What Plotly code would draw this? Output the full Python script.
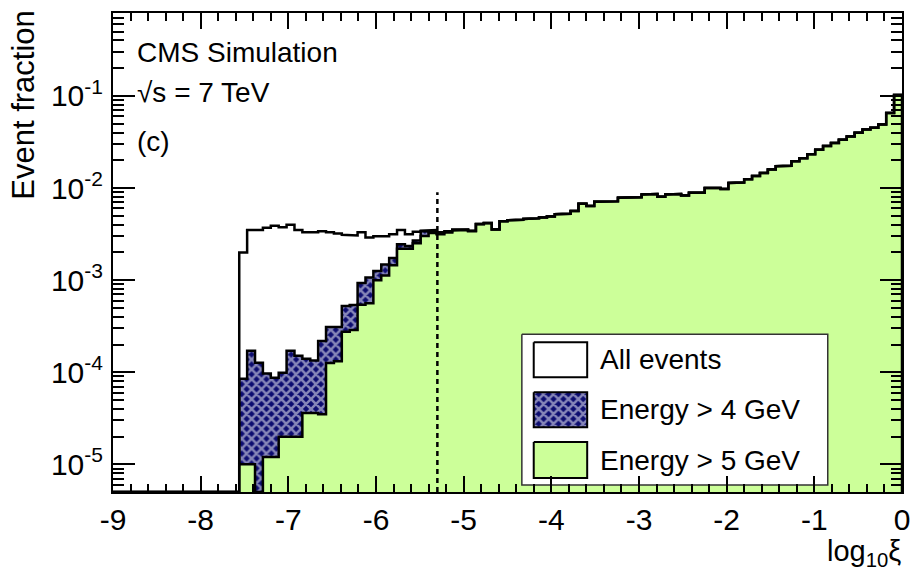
import numpy as np
import plotly.graph_objects as go

# Histogram binning in log10(xi)
XI_MIN, XI_MAX, N_BINS = -9.0, 0.0, 100
XI_CUT = -5.3          # position of the dashed reference line
CUT_TOP = 9e-3         # height the dashed line reaches

# Event fraction per bin (bins 0-15 are empty)
frac_all = [
    0, 0, 0, 0, 0, 0, 0, 0, 0, 0,
    0, 0, 0, 0, 0, 0, 2.0e-3, 3.5e-3, 3.5e-3, 3.7e-3,
    3.9e-3, 3.75e-3, 4.0e-3, 3.5e-3, 3.3e-3, 3.3e-3, 3.4e-3, 3.3e-3, 3.2e-3, 3.1e-3,
    3.05e-3, 3.3e-3, 2.9e-3, 3.0e-3, 3.0e-3, 3.15e-3, 3.5e-3, 3.15e-3, 3.35e-3, 3.45e-3,
    3.5e-3, 3.31e-3, 3.39e-3, 3.55e-3, 3.55e-3, 3.43e-3, 4.07e-3, 4.17e-3, 3.55e-3, 4.37e-3,
    4.47e-3, 4.52e-3, 4.62e-3, 4.68e-3, 4.79e-3, 4.90e-3, 5.19e-3, 5.25e-3, 5.62e-3, 6.76e-3,
    6.38e-3, 7.08e-3, 7.08e-3, 7.16e-3, 7.85e-3, 7.85e-3, 7.94e-3, 8.51e-3, 8.61e-3, 8.04e-3,
    8.51e-3, 8.61e-3, 8.32e-3, 8.91e-3, 8.91e-3, 1.00e-2, 1.00e-2, 9.77e-3, 1.135e-2, 1.15e-2,
    1.245e-2, 1.35e-2, 1.46e-2, 1.585e-2, 1.72e-2, 1.74e-2, 1.95e-2, 2.11e-2, 2.32e-2, 2.60e-2,
    2.85e-2, 3.09e-2, 3.35e-2, 3.63e-2, 3.98e-2, 4.32e-2, 4.52e-2, 4.90e-2, 6.53e-2, 0.102,
]

frac_e4 = [
    0, 0, 0, 0, 0, 0, 0, 0, 0, 0,
    0, 0, 0, 0, 0, 0, 8.5e-5, 1.71e-4, 1.27e-4, 9.7e-5,
    8.7e-5, 9.9e-5, 1.71e-4, 1.51e-4, 1.40e-4, 1.34e-4, 2.19e-4, 3.09e-4, 3.09e-4, 5.25e-4,
    5.37e-4, 9.3e-4, 1.07e-3, 1.26e-3, 1.48e-3, 1.74e-3, 2.45e-3, 2.34e-3, 2.69e-3, 3.39e-3,
    3.31e-3, 3.22e-3, 3.33e-3, 3.50e-3, 3.52e-3, 3.41e-3, 4.07e-3, 4.17e-3, 3.55e-3, 4.37e-3,
    4.47e-3, 4.52e-3, 4.62e-3, 4.68e-3, 4.79e-3, 4.90e-3, 5.19e-3, 5.25e-3, 5.62e-3, 6.76e-3,
    6.38e-3, 7.08e-3, 7.08e-3, 7.16e-3, 7.85e-3, 7.85e-3, 7.94e-3, 8.51e-3, 8.61e-3, 8.04e-3,
    8.51e-3, 8.61e-3, 8.32e-3, 8.91e-3, 8.91e-3, 1.00e-2, 1.00e-2, 9.77e-3, 1.135e-2, 1.15e-2,
    1.245e-2, 1.35e-2, 1.46e-2, 1.585e-2, 1.72e-2, 1.74e-2, 1.95e-2, 2.11e-2, 2.32e-2, 2.60e-2,
    2.85e-2, 3.09e-2, 3.35e-2, 3.63e-2, 3.98e-2, 4.32e-2, 4.52e-2, 4.90e-2, 6.53e-2, 0.102,
]

frac_e5 = [
    0, 0, 0, 0, 0, 0, 0, 0, 0, 0,
    0, 0, 0, 0, 0, 0, 1.0e-5, 1.0e-5, 0, 1.2e-5,
    1.2e-5, 2.0e-5, 2.0e-5, 2.0e-5, 3.6e-5, 3.6e-5, 3.5e-5, 1.26e-4, 1.32e-4, 2.75e-4,
    2.88e-4, 5.4e-4, 5.6e-4, 1.0e-3, 1.12e-3, 1.45e-3, 2.19e-3, 2.19e-3, 2.51e-3, 3.02e-3,
    3.24e-3, 3.15e-3, 3.28e-3, 3.46e-3, 3.50e-3, 3.40e-3, 4.05e-3, 4.15e-3, 3.55e-3, 4.37e-3,
    4.47e-3, 4.52e-3, 4.62e-3, 4.68e-3, 4.79e-3, 4.90e-3, 5.19e-3, 5.25e-3, 5.62e-3, 6.76e-3,
    6.38e-3, 7.08e-3, 7.08e-3, 7.16e-3, 7.85e-3, 7.85e-3, 7.94e-3, 8.51e-3, 8.61e-3, 8.04e-3,
    8.51e-3, 8.61e-3, 8.32e-3, 8.91e-3, 8.91e-3, 1.00e-2, 1.00e-2, 9.77e-3, 1.135e-2, 1.15e-2,
    1.245e-2, 1.35e-2, 1.46e-2, 1.585e-2, 1.72e-2, 1.74e-2, 1.95e-2, 2.11e-2, 2.32e-2, 2.60e-2,
    2.85e-2, 3.09e-2, 3.35e-2, 3.63e-2, 3.98e-2, 4.32e-2, 4.52e-2, 4.90e-2, 6.53e-2, 0.102,
]

series_names = ["All events", "Energy > 4 GeV", "Energy > 5 GeV"]
x_tick_vals = list(range(-9, 1))
y_exponents = [-5, -4, -3, -2, -1]

# Axis limits (log10 of event fraction)
LOGY_LO, LOGY_HI = -5.3, -0.1
Y_LO = 10 ** LOGY_LO

FONT = "Liberation Sans, Arial, Helvetica, sans-serif"
GREEN = "#ccff99"
NAVY = "#0c0c70"
LW = 2.5

# Plot frame in pixels (figure is 921 x 575)
W, H = 921, 575
PL, PR, PT, PB = 113, 910, 12, 492


def px(x):
    """Horizontal pixel -> paper coordinate."""
    return (x - PL) / (PR - PL)


def py(y):
    """Vertical pixel (from top) -> paper coordinate."""
    return (PB - y) / (PB - PT)


edges = np.linspace(XI_MIN, XI_MAX, N_BINS + 1)


def step_path(values, closed):
    """Outline of a histogram as an hv step path; empty bins sit on the axis floor."""
    v = np.maximum(np.asarray(values, float), Y_LO)
    xs = np.repeat(edges, 2)[1:-1]
    ys = np.repeat(v, 2)
    if closed:
        xs = np.concatenate([[edges[0]], xs, [edges[-1]]])
        ys = np.concatenate([[Y_LO], ys, [Y_LO]])
    return xs, ys


pattern = dict(shape="x", bgcolor=NAVY, fgcolor="white", size=7, solidity=0.6)

fig = go.Figure()

x4, y4 = step_path(frac_e4, True)
fig.add_trace(go.Scatter(x=x4, y=y4, mode="lines", fill="toself", fillpattern=pattern,
                         line=dict(color="black", width=LW), name=series_names[1],
                         showlegend=False, hoverinfo="skip"))
x5, y5 = step_path(frac_e5, True)
fig.add_trace(go.Scatter(x=x5, y=y5, mode="lines", fill="toself", fillcolor=GREEN,
                         line=dict(color="black", width=LW), name=series_names[2],
                         showlegend=False, hoverinfo="skip"))
xa, ya = step_path(frac_all, False)
fig.add_trace(go.Scatter(x=xa, y=ya, mode="lines", line=dict(color="black", width=LW),
                         name=series_names[0], showlegend=False, hoverinfo="skip"))
fig.add_trace(go.Scatter(x=[XI_CUT, XI_CUT], y=[Y_LO, CUT_TOP], mode="lines",
                         line=dict(color="black", width=2.5, dash="5px,4px"),
                         showlegend=False, hoverinfo="skip"))

# Legend drawn on a pixel-unit overlay axis
BOX = (526, 835, 334, 485)
SW_X = (538, 592)
rows = [(342, 377), (392, 427), (442, 478)]


def rect(x0, x1, y0, y1):
    return [x0, x1, x1, x0, x0], [y0, y0, y1, y1, y0]


bx, by = rect(BOX[0], BOX[1], BOX[2], BOX[3])
fig.add_trace(go.Scatter(x=bx, y=by, xaxis="x2", yaxis="y2", mode="lines", fill="toself",
                         fillcolor="white", line=dict(color="#333333", width=1.5),
                         showlegend=False, hoverinfo="skip"))
styles = [dict(fillcolor="white"), dict(fillpattern=pattern), dict(fillcolor=GREEN)]
for (r0, r1), st, label in zip(rows, styles, series_names):
    sx, sy = rect(SW_X[0], SW_X[1], r0, r1)
    fig.add_trace(go.Scatter(x=sx, y=sy, xaxis="x2", yaxis="y2", mode="lines", fill="toself",
                             line=dict(color="black", width=2), showlegend=False,
                             hoverinfo="skip", **st))
    fig.add_annotation(x=px(603), y=py((r0 + r1) / 2), xref="paper", yref="paper", text=label,
                       showarrow=False, xanchor="left", yanchor="middle",
                       font=dict(family=FONT, size=28, color="black"))

# Labels inside the frame
for txt, ypix in [("CMS Simulation", 52), ("√s = 7 TeV", 92), ("(c)", 141)]:
    fig.add_annotation(x=px(135), y=py(ypix), xref="paper", yref="paper", text=txt,
                       showarrow=False, xanchor="left", yanchor="middle",
                       font=dict(family=FONT, size=28, color="black"))

# Axis titles
fig.add_annotation(x=px(23), y=py(104), xref="paper", yref="paper", text="Event fraction",
                   textangle=-90, showarrow=False, xanchor="center", yanchor="middle",
                   font=dict(family=FONT, size=31, color="black"))
fig.add_annotation(x=px(911), y=py(553), xref="paper", yref="paper", text="log<sub>10</sub>ξ",
                   showarrow=False, xanchor="right", yanchor="middle",
                   font=dict(family=FONT, size=29, color="black"))

minor_y = [m * 10.0 ** e for e in range(-6, 0) for m in range(2, 10)
           if LOGY_LO <= np.log10(m * 10.0 ** e) <= LOGY_HI]

fig.update_layout(
    width=W, height=H,
    margin=dict(l=PL, r=W - PR, t=PT, b=H - PB, pad=0),
    paper_bgcolor="white", plot_bgcolor="white",
    showlegend=False,
    font=dict(family=FONT, color="black"),
    xaxis=dict(
        range=[XI_MIN, XI_MAX], showgrid=False, zeroline=False,
        showline=True, linecolor="black", linewidth=2, mirror="ticks",
        ticks="inside", ticklen=16, tickwidth=1.5, tickcolor="black",
        tickmode="array", tickvals=x_tick_vals, ticktext=[str(v) for v in x_tick_vals],
        tickfont=dict(family=FONT, size=30, color="black"), ticklabelstandoff=0,
        minor=dict(tickmode="linear", tick0=XI_MIN, dtick=0.2, ticks="inside",
                   ticklen=8, tickwidth=1.5, tickcolor="black", showgrid=False),
    ),
    yaxis=dict(
        type="log", range=[LOGY_LO, LOGY_HI], showgrid=False, zeroline=False,
        showline=True, linecolor="black", linewidth=2, mirror="ticks",
        ticks="inside", ticklen=22, tickwidth=1.5, tickcolor="black",
        tickmode="array", tickvals=[10.0 ** e for e in y_exponents],
        ticktext=[f"10<sup>{e}</sup>" for e in y_exponents],
        tickfont=dict(family=FONT, size=30, color="black"), ticklabelstandoff=2,
        minor=dict(tickmode="array", tickvals=minor_y, ticks="inside",
                   ticklen=11, tickwidth=1.5, tickcolor="black", showgrid=False),
    ),
    xaxis2=dict(overlaying="x", range=[PL, PR], visible=False, anchor="y2"),
    yaxis2=dict(overlaying="y", range=[PB, PT], visible=False, anchor="x2"),
)

fig.write_html("out.html")
